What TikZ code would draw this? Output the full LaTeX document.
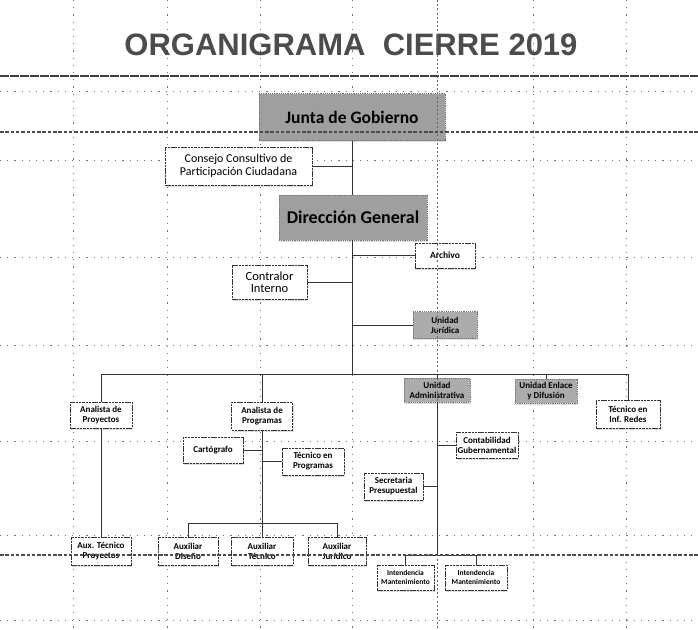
\documentclass[tikz,border=0pt]{standalone}
\usepackage{fontspec}
\setmainfont{Carlito}
\newfontfamily\titlefont{Liberation Sans}
\usetikzlibrary{shadows}
\begin{document}
\begin{tikzpicture}[x=1pt,y=-1pt,
  gridline/.style={black!55, line width=0.8pt, dash pattern=on 1.2pt off 6pt},
  pagebreak/.style={black!70, line width=1.1pt, dash pattern=on 3.5pt off 1.8pt},
  vbreak/.style={black!60, line width=1pt, dash pattern=on 2pt off 2.2pt},
  conn/.style={black!80, line width=1pt},
  wbox/.style={draw=black!80, fill=white, line width=0.9pt, dash pattern=on 2.5pt off 0.8pt,
    align=center, inner sep=1pt, text=black,
    drop shadow={shadow xshift=1.2pt, shadow yshift=-1.5pt, fill=black!25},
    font=\bfseries\fontsize{9}{10}\selectfont},
  gbox/.style={wbox, fill=gray!65, draw=black!55, dash pattern=on 1.2pt off 1pt},
  bigbox/.style={gbox, fill=gray!75, font=\bfseries\fontsize{17.5}{19}\selectfont},
  sz/.style 2 args={minimum width=#1pt, minimum height=#2pt},
]
\useasboundingbox (0,0) rectangle (698,629);
\fill[white] (0,0) rectangle (698,629);

% ---- background grid (spreadsheet cells)
\foreach \gx in {73,167,260,352,533,626}
  \draw[gridline] (\gx,0) -- (\gx,629);
\foreach \gy in {91,160,257,345,441,535,620}
  \draw[gridline] (0,\gy) -- (698,\gy);

% ---- title
\node[text=black!70, inner sep=0pt] (title) at (351,45)
  {\titlefont\bfseries\fontsize{31}{31}\selectfont ORGANIGRAMA\ \ CIERRE 2019};
\draw[black!75, line width=2.6pt, dash pattern=on 9pt off 1pt] (0,76) -- (698,76);

% ---- boxes
\node[bigbox, sz={186}{47}] (junta) at (352,117) {Junta de Gobierno};
\node[wbox, sz={147}{38}, font=\fontsize{12}{13}\selectfont] (consejo) at (238.5,166)
  {Consejo Consultivo de\\Participación Ciudadana};
\node[bigbox, sz={148}{45}, font=\bfseries\fontsize{18}{19}\selectfont] (dir) at (353,217.5) {Dirección General};
\node[wbox, sz={60}{25}, font=\bfseries\fontsize{9.5}{10.5}\selectfont] (archivo) at (445,255.5) {Archivo};
\node[wbox, sz={75}{34}, font=\fontsize{12.5}{12.5}\selectfont] (contralor) at (269.5,282) {Contralor\\Interno};
\node[gbox, sz={64}{27}] (juridica) at (445,325) {Unidad\\Jurídica};

\node[wbox, sz={62}{26}] (proy) at (101,415) {Analista de\\Proyectos};
\node[wbox, sz={61}{28}] (prog) at (262,416) {Analista de\\Programas};
\node[gbox, sz={66}{24}] (admin) at (437,390) {Unidad\\Administrativa};
\node[gbox, sz={62}{24}] (enlace) at (546,391) {Unidad Enlace\\y Difusión};
\node[wbox, sz={64}{28}] (tec) at (628,414) {Técnico en\\Inf. Redes};

\node[wbox, sz={60}{26}] (carto) at (213,450) {Cartógrafo};
\node[wbox, sz={62}{27}] (tecprog) at (313,461.5) {Técnico en\\Programas};
\node[wbox, sz={62}{26}] (contab) at (487,445) {Contabilidad\\Gubernamental};
\node[wbox, sz={59}{27}] (secret) at (393.5,486.5) {Secretaria\\Presupuestal};

\node[wbox, sz={60}{28}] (auxproy) at (101,551) {Aux. Técnico\\Proyectos};
\node[wbox, sz={60}{28}] (aux1) at (188,551) {Auxiliar\\Diseño};
\node[wbox, sz={62}{28}] (aux2) at (262,551) {Auxiliar\\Técnico};
\node[wbox, sz={58}{28}] (aux3) at (337,551) {Auxiliar\\Jurídico};
\node[wbox, sz={57}{25}, font=\bfseries\fontsize{7.5}{8.5}\selectfont] (int1) at (405.5,577.5) {Intendencia\\Mantenimiento};
\node[wbox, sz={62}{25}, font=\bfseries\fontsize{7.5}{8.5}\selectfont] (int2) at (476,577.5) {Intendencia\\Mantenimiento};

% ---- vertical page-break line (over boxes, under connectors)
\draw[vbreak] (437,0) -- (437,629);

% ---- junction points
\coordinate (bus) at (352,374);
\coordinate (subbus) at (262,523);
\coordinate (intbus) at (437,555);

% ---- connectors
\draw[conn] (junta.south) -- (junta.south |- dir.north);
\draw[conn] (consejo.east) -- (consejo.east -| junta.south);
\draw[conn] (dir.south -| bus) -- (bus);
\draw[conn] (archivo.west -| bus) -- (archivo.west);
\draw[conn] (contralor.east) -- (contralor.east -| bus);
\draw[conn] (juridica.west -| bus) -- (juridica.west);

\draw[conn] (proy.north) -- (proy.north |- bus) -- (tec.north |- bus) -- (tec.north);
\draw[conn] (prog.north |- bus) -- (prog.north);
\draw[conn] (admin.north |- bus) -- (admin.north);
\draw[conn] (enlace.north |- bus) -- (enlace.north);

\draw[conn] (proy.south) -- (auxproy.north);
\draw[conn] (prog.south) -- (aux2.north);
\draw[conn] (aux1.north) -- (aux1.north |- subbus) -- (aux3.north |- subbus) -- (aux3.north);
\draw[conn] (carto.east) -- (carto.east -| prog.south);
\draw[conn] (tecprog.west -| prog.south) -- (tecprog.west);

\draw[conn] (admin.south) -- (intbus);
\draw[conn] (int1.north) -- (int1.north |- intbus) -- (int2.north |- intbus) -- (int2.north);
\draw[conn] (contab.west -| intbus) -- (contab.west);
\draw[conn] (secret.east) -- (secret.east -| intbus);

% ---- horizontal page-break lines (drawn over everything)
\draw[pagebreak] (0,132) -- (698,132);
\draw[pagebreak] (0,555) -- (698,555);
\end{tikzpicture}
\end{document}
